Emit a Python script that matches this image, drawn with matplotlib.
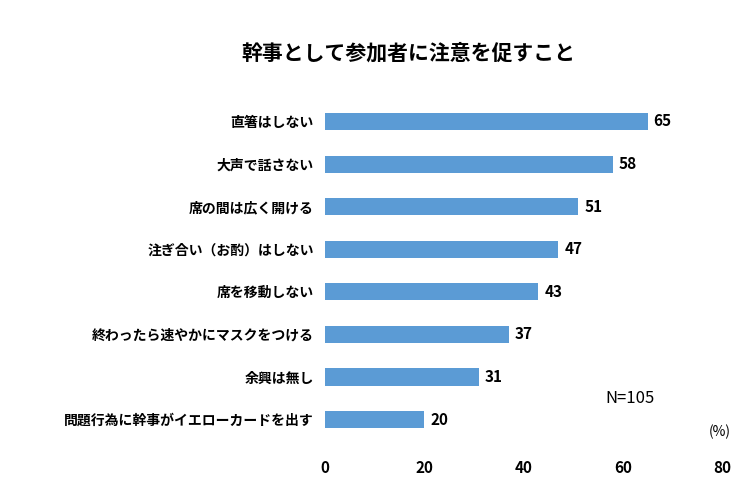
import matplotlib
matplotlib.use("Agg")
import matplotlib.pyplot as plt

plt.rcParams["font.family"] = "Noto Sans CJK JP"

categories = ["直箸はしない", "大声で話さない", "席の間は広く開ける", "注ぎ合い（お酌）はしない",
              "席を移動しない", "終わったら速やかにマスクをつける", "余興は無し", "問題行為に幹事がイエローカードを出す"]
values = [65, 58, 51, 47, 43, 37, 31, 20]
xticks = [0, 20, 40, 60, 80]

fig = plt.figure(figsize=(7.5, 5.01), dpi=100)
ax = fig.add_axes([0.433, 0.12, 0.53, 0.68])
y = list(range(len(categories)))
ax.barh(y, values, height=0.4, color="#5B9BD5")
ax.set_ylim(len(categories) - 0.5, -0.5)
ax.set_xlim(0, 80)
ax.set_yticks(y)
ax.set_yticklabels(categories, fontsize=10, fontweight="bold")
ax.set_xticks(xticks)
ax.set_xticklabels([str(t) for t in xticks], fontsize=11, fontweight="bold")
for yi, v in zip(y, values):
    ax.text(v + 1.2, yi, str(v), va="center", ha="left", fontsize=11, fontweight="bold")
for s in ax.spines.values():
    s.set_visible(False)
ax.tick_params(length=0, pad=8)
ax.tick_params(axis="x", pad=14)
fig.text(0.545, 0.895, "幹事として参加者に注意を促すこと", ha="center", va="center", fontsize=15, fontweight="bold")
fig.text(0.84, 0.205, "N=105", ha="center", va="center", fontsize=12)
fig.text(0.96, 0.138, "(%)", ha="center", va="center", fontsize=10)
fig.savefig("out.png", dpi=100)
